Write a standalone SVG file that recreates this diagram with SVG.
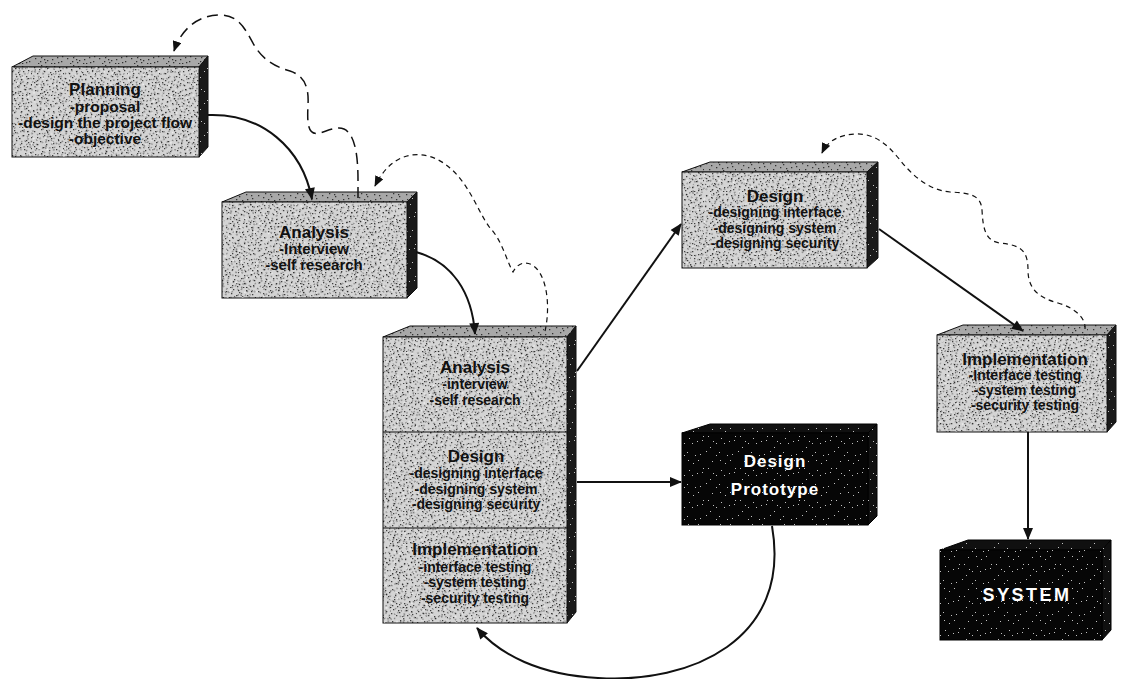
<svg xmlns="http://www.w3.org/2000/svg" xmlns:xlink="http://www.w3.org/1999/xlink" width="1123" height="679" viewBox="0 0 1123 679">
  <style>
    .front { fill: #d4d4d4; stroke: #111; stroke-width: 1; }
    .top { fill: #a8a8a8; stroke: #111; stroke-width: 1; }
    .side { fill: #1a1a1a; stroke: #111; stroke-width: 1; }
    .dfront { fill: #060606; stroke: #000; stroke-width: 1; }
    .dtop { fill: #101010; stroke: #000; stroke-width: 1; }
    .speck { fill: url(#dk); stroke: none; }
    .speck2 { fill: url(#dk2); stroke: none; }
    .hl { fill: url(#lt2); stroke: none; }
    .lspeck { fill: url(#lt); stroke: none; }
    .div { stroke: #111; stroke-width: 1; fill: none; }
    text { font-family: "Liberation Sans", Arial, sans-serif; font-weight: bold; text-anchor: middle; fill: #111; }
    .t { font-size: 17px; }
    .s { font-size: 14px; }
    .sm { font-size: 15px; }
    .sp { font-size: 15.5px; }
    .w { fill: #fff; font-size: 17px; letter-spacing: 1px; }
    .ws { fill: #fff; font-size: 18px; letter-spacing: 2.5px; }
    .solid { fill: none; stroke: #111; stroke-width: 2; }
    .dashA { fill: none; stroke: #111; stroke-width: 1.5; stroke-dasharray: 11 6; }
    .dashB { fill: none; stroke: #111; stroke-width: 1.2; stroke-dasharray: 5 4; }
  </style>
  <defs>
    <!-- stipple dots used as a grain over the block faces -->
    <pattern id="dk" width="32" height="32" patternUnits="userSpaceOnUse">
      <path fill="#000" fill-opacity="0.7" d="M2 3h1.3v1.3h-1.3zM9 1h1.3v1.3h-1.3zM15 4h1.3v1.3h-1.3zM22 2h1.3v1.3h-1.3zM28 6h1.3v1.3h-1.3zM5 9h1.3v1.3h-1.3zM12 7h1.3v1.3h-1.3zM19 10h1.3v1.3h-1.3zM26 12h1.3v1.3h-1.3zM31 9h1v1.3h-1zM1 14h1.3v1.3h-1.3zM8 13h1.3v1.3h-1.3zM14 16h1.3v1.3h-1.3zM21 15h1.3v1.3h-1.3zM27 18h1.3v1.3h-1.3zM4 20h1.3v1.3h-1.3zM11 19h1.3v1.3h-1.3zM17 22h1.3v1.3h-1.3zM24 21h1.3v1.3h-1.3zM30 24h1.3v1.3h-1.3zM3 26h1.3v1.3h-1.3zM9 25h1.3v1.3h-1.3zM15 28h1.3v1.3h-1.3zM20 27h1.3v1.3h-1.3zM26 30h1.3v1.3h-1.3zM6 31h1.3v1h-1.3zM13 30h1.3v1.3h-1.3zM29 29h1.3v1.3h-1.3zM18 8h1.3v1.3h-1.3zM7 5h1.3v1.3h-1.3zM23 7h1.3v1.3h-1.3zM10 23h1.3v1.3h-1.3zM2 18h1.3v1.3h-1.3zM16 12h1.3v1.3h-1.3zM25 25h1.3v1.3h-1.3zM20 19h1.3v1.3h-1.3zM12 27h1.3v1.3h-1.3zM28 14h1.3v1.3h-1.3zM5 16h1.3v1.3h-1.3zM22 31h1.3v1h-1.3zM14 2h1.3v1.3h-1.3zM31 20h1v1.3h-1zM8 29h1.3v1.3h-1.3zM19 31h1.3v1h-1.3zM27 3h1.3v1.3h-1.3z"/>
    </pattern>
    <pattern id="dk2" xlink:href="#dk" patternTransform="rotate(37) scale(0.85)"/>
    <pattern id="lt" width="32" height="32" patternUnits="userSpaceOnUse">
      <path fill="#fff" fill-opacity="0.75" d="M2 3h1v1h-1zM15 4h1v1h-1zM28 6h1v1h-1zM12 7h1v1h-1zM26 12h1v1h-1zM8 13h1v1h-1zM21 15h1v1h-1zM4 20h1v1h-1zM17 22h1v1h-1zM30 24h1v1h-1zM9 25h1v1h-1zM20 27h1v1h-1zM6 31h1v1h-1zM23 7h1v1h-1zM16 12h1v1h-1zM25 25h1v1h-1zM12 27h1v1h-1zM31 20h1v1h-1z"/>
    </pattern>
    <pattern id="lt2" xlink:href="#lt" patternTransform="rotate(-23) scale(1.4)"/>
    <marker id="ah" viewBox="0 0 12 10" refX="11" refY="5" markerWidth="13" markerHeight="10" markerUnits="userSpaceOnUse" orient="auto">
      <path d="M0,0 L12,5 L0,10 z" fill="#111"/>
    </marker>
    <marker id="ahs" viewBox="0 0 12 10" refX="11" refY="5" markerWidth="11" markerHeight="9" markerUnits="userSpaceOnUse" orient="auto">
      <path d="M0,0 L12,5 L0,10 z" fill="#111"/>
    </marker>
  </defs>

  <rect width="1123" height="679" fill="#fff"/>

  <!-- Planning -->
  <g id="planning">
    <polygon class="top" points="12,67 33,56 208,56 199,67"/>
    <polygon class="speck" points="12,67 33,56 208,56 199,67"/>
    <polygon class="side" points="199,67 208,56 208,147 199,157"/>
    <polygon class="lspeck" points="199,67 208,56 208,147 199,157"/>
    <rect class="front" x="12" y="67" width="187" height="90"/>
    <rect class="speck" x="12" y="67" width="187" height="90"/>
    <rect class="speck2" x="12" y="67" width="187" height="90"/>
    <rect class="hl" x="12" y="67" width="187" height="90"/>
    <text class="t" x="105" y="95">Planning</text>
    <text class="sp" x="105" y="112">-proposal</text>
    <text class="sp" x="105" y="128">-design the project flow</text>
    <text class="sp" x="105" y="144">-objective</text>
  </g>

  <!-- Analysis -->
  <g id="analysis">
    <polygon class="top" points="222,202 246,192 417,192 407,202"/>
    <polygon class="speck" points="222,202 246,192 417,192 407,202"/>
    <polygon class="side" points="407,202 417,192 417,288 407,298"/>
    <polygon class="lspeck" points="407,202 417,192 417,288 407,298"/>
    <rect class="front" x="222" y="202" width="185" height="96"/>
    <rect class="speck" x="222" y="202" width="185" height="96"/>
    <rect class="speck2" x="222" y="202" width="185" height="96"/>
    <rect class="hl" x="222" y="202" width="185" height="96"/>
    <text class="t" x="314" y="238">Analysis</text>
    <text class="sm" x="314" y="254">-Interview</text>
    <text class="sm" x="314" y="270">-self research</text>
  </g>

  <!-- Combined phases block -->
  <g id="phases">
    <polygon class="top" points="383,337 410,326 576,326 567,337"/>
    <polygon class="speck" points="383,337 410,326 576,326 567,337"/>
    <polygon class="side" points="567,337 576,326 576,612 567,623"/>
    <polygon class="lspeck" points="567,337 576,326 576,612 567,623"/>
    <rect class="front" x="383" y="337" width="184" height="286"/>
    <rect class="speck" x="383" y="337" width="184" height="286"/>
    <rect class="speck2" x="383" y="337" width="184" height="286"/>
    <rect class="hl" x="383" y="337" width="184" height="286"/>
    <line class="div" x1="383" y1="432" x2="567" y2="432"/>
    <line class="div" x1="383" y1="528" x2="567" y2="528"/>
    <text class="t" x="475" y="373">Analysis</text>
    <text class="s" x="475" y="389">-interview</text>
    <text class="s" x="475" y="405">-self research</text>
    <text class="t" x="476" y="462">Design</text>
    <text class="s" x="476" y="478">-designing interface</text>
    <text class="s" x="476" y="494">-designing system</text>
    <text class="s" x="476" y="509">-designing security</text>
    <text class="t" x="475" y="555">Implementation</text>
    <text class="s" x="475" y="572">-interface testing</text>
    <text class="s" x="475" y="587">-system testing</text>
    <text class="s" x="475" y="603">-security testing</text>
  </g>

  <!-- Design -->
  <g id="design">
    <polygon class="top" points="682,172 710,162 878,162 867,172"/>
    <polygon class="speck" points="682,172 710,162 878,162 867,172"/>
    <polygon class="side" points="867,172 878,162 878,258 867,268"/>
    <polygon class="lspeck" points="867,172 878,162 878,258 867,268"/>
    <rect class="front" x="682" y="172" width="185" height="96"/>
    <rect class="speck" x="682" y="172" width="185" height="96"/>
    <rect class="speck2" x="682" y="172" width="185" height="96"/>
    <rect class="hl" x="682" y="172" width="185" height="96"/>
    <text class="t" x="775" y="202">Design</text>
    <text class="s" x="775" y="217">-designing interface</text>
    <text class="s" x="775" y="233">-designing system</text>
    <text class="s" x="775" y="248">-designing security</text>
  </g>

  <!-- Implementation -->
  <g id="implementation">
    <polygon class="top" points="937,335 963,325 1116,325 1107,335"/>
    <polygon class="speck" points="937,335 963,325 1116,325 1107,335"/>
    <polygon class="side" points="1107,335 1116,325 1116,422 1107,432"/>
    <polygon class="lspeck" points="1107,335 1116,325 1116,422 1107,432"/>
    <rect class="front" x="937" y="335" width="170" height="97"/>
    <rect class="speck" x="937" y="335" width="170" height="97"/>
    <rect class="speck2" x="937" y="335" width="170" height="97"/>
    <rect class="hl" x="937" y="335" width="170" height="97"/>
    <text class="t" x="1025" y="365">Implementation</text>
    <text class="s" x="1025" y="380">-Interface testing</text>
    <text class="s" x="1025" y="395">-system testing</text>
    <text class="s" x="1025" y="410">-security testing</text>
  </g>

  <!-- Design Prototype -->
  <g id="prototype">
    <polygon class="dtop" points="682,433 710,424 877,424 868,433"/>
    <polygon class="dtop" points="868,433 877,424 877,516 868,525"/>
    <rect class="dfront" x="682" y="433" width="186" height="92"/>
    <rect class="lspeck" x="682" y="424" width="195" height="101"/>
    <text class="w" x="775" y="467">Design</text>
    <text class="w" x="775" y="495">Prototype</text>
  </g>

  <!-- SYSTEM -->
  <g id="system">
    <polygon class="dtop" points="940,550 968,540 1111,540 1102,550"/>
    <polygon class="dtop" points="1102,550 1111,540 1111,630 1102,640"/>
    <rect class="dfront" x="940" y="550" width="162" height="90"/>
    <rect class="lspeck" x="940" y="540" width="171" height="100"/>
    <text class="ws" x="1027" y="601">SYSTEM</text>
  </g>

  <!-- Connectors -->
  <g id="connectors">
    <path class="solid" marker-end="url(#ah)" d="M208,115 C262,113 302,148 312,199"/>
    <path class="solid" marker-end="url(#ah)" d="M416,252 C452,262 472,292 475,334"/>
    <path class="solid" marker-end="url(#ah)" d="M577,371 L681,224"/>
    <path class="solid" marker-end="url(#ah)" d="M577,482 L681,482"/>
    <path class="solid" marker-end="url(#ah)" d="M879,229 L1023,331"/>
    <path class="solid" marker-end="url(#ah)" d="M1028,432 L1028,539"/>
    <path class="solid" marker-end="url(#ah)" d="M772,526 C792,640 690,684 598,678 C540,675 500,655 477,628"/>

    <path class="dashA" marker-end="url(#ahs)" d="M358,198 L358,180 C358,160 356,140 348,132 C341,124 330,130 320,133 C308,136 307,125 308,105 C309,88 305,76 290,71 C272,66 262,58 254,45 C245,28 238,15 220,15 C200,15 182,27 174,51"/>
    <path class="dashB" marker-end="url(#ahs)" d="M545,331 C550,310 548,280 536,268 C528,260 518,262 513,272 C507,262 502,240 490,228 C478,212 470,185 450,168 C430,150 395,145 375,186"/>
    <path class="dashB" marker-end="url(#ahs)" d="M1085,329 C1086,318 1075,308 1058,303 C1040,298 1028,290 1028,270 C1028,250 1020,245 1000,243 C985,241 983,228 982,210 C981,195 970,193 950,192 C928,190 912,175 900,160 C888,145 875,133 855,134 C840,135 828,140 822,153"/>
  </g>
</svg>
